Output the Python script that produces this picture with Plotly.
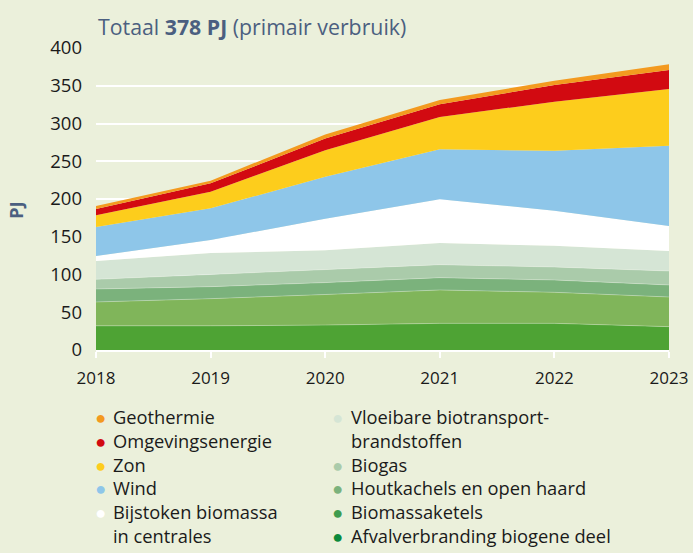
import plotly.graph_objects as go

years = [2018, 2019, 2020, 2021, 2022, 2023]

# lagen van onder naar boven (PJ)
afval = [32.0, 32.0, 33.0, 35.3, 35.3, 30.9]
biomassaketels = [31.6, 36.0, 40.5, 44.2, 41.1, 39.3]
houtkachels = [17.2, 15.9, 15.8, 16.3, 16.3, 15.9]
biogas = [12.8, 16.3, 16.9, 17.2, 17.2, 18.5]
vloeibaar = [24.3, 28.3, 25.8, 28.7, 28.2, 26.5]
bijstoken = [6.6, 17.2, 42.0, 57.9, 46.4, 33.1]
wind = [38.4, 41.9, 55.5, 66.2, 79.5, 106.4]
zon = [15.5, 22.1, 35.0, 42.8, 64.9, 75.1]
omgeving = [8.4, 11.0, 15.5, 16.8, 22.1, 25.2]
geothermie = [3.9, 3.6, 5.5, 5.6, 5.7, 7.5]

y_ticks = [0, 50, 100, 150, 200, 250, 300, 350, 400]

BG = "#ebf0db"
TITLE = "#4b5f80"
FONT = "Open Sans"
LEG_SIZE = 18.3

# (naam, waarden, kleur vlak, kleur bolletje, kolom)
series = [
    ("Afvalverbranding biogene deel", afval, "#4ea334", "#0b8a3c", 2),
    ("Biomassaketels", biomassaketels, "#80b55a", "#3f9c4f", 2),
    ("Houtkachels en open haard", houtkachels, "#7bb27c", "#7bb27c", 2),
    ("Biogas", biogas, "#aacbaa", "#aacbaa", 2),
    ("Vloeibare biotransport-<br>brandstoffen", vloeibaar, "#d5e5d5", "#d5e5d5", 2),
    ("Bijstoken biomassa<br>in centrales", bijstoken, "#ffffff", "#ffffff", 1),
    ("Wind", wind, "#8ec6e9", "#8ec6e9", 1),
    ("Zon", zon, "#fdcd1c", "#fdcd1c", 1),
    ("Omgevingsenergie", omgeving, "#d20a11", "#d20a11", 1),
    ("Geothermie", geothermie, "#f39a1f", "#f39a1f", 1),
]

fig = go.Figure()

for i, (name, vals, fill, _, _) in enumerate(series):
    # dunne lichte scheidingslijn tussen de groene lagen
    edge = dict(width=0.8, color="rgba(255,255,255,0.35)") if i < 4 else dict(width=0, color=fill)
    fig.add_trace(go.Scatter(
        x=years, y=vals, mode="lines", stackgroup="one",
        line=edge, fillcolor=fill,
        showlegend=False, name=name.replace("<br>", " "),
    ))


def legend_column(col):
    dots, texts = [], []
    for name, _, _, dot, c in reversed(series):
        if c != col:
            continue
        lines = name.split("<br>")
        dots.append(f'<span style="color:{dot}">●</span>')
        dots += ['<span style="color:rgba(0,0,0,0)">●</span>'] * (len(lines) - 1)
        texts += lines
    return "<br>".join(dots), "<br>".join(texts)


annotations = [
    dict(text="Totaal <b>378 PJ</b> (primair verbruik)", xref="paper", yref="paper",
         x=0.0, y=1.07, xanchor="left", yanchor="middle", showarrow=False,
         font=dict(family=FONT, size=21.3, color=TITLE)),
    dict(text="<b>PJ</b>", xref="paper", yref="paper", x=-0.14, y=0.464,
         textangle=-90, showarrow=False, xanchor="center", yanchor="middle",
         font=dict(family=FONT, size=18, color=TITLE)),
]

for col, x_dot, x_txt in [(1, 0.007, 0.026), (2, 0.4223, 0.441)]:
    dots, texts = legend_column(col)
    annotations.append(dict(
        text=dots, xref="paper", yref="paper", x=x_dot, y=-0.172,
        xanchor="center", yanchor="top", align="center", showarrow=False,
        font=dict(family=FONT, size=LEG_SIZE),
    ))
    annotations.append(dict(
        text=texts, xref="paper", yref="paper", x=x_txt, y=-0.172,
        xanchor="left", yanchor="top", align="left", showarrow=False,
        font=dict(family=FONT, size=LEG_SIZE, color="#1a1a1a"),
    ))

fig.update_layout(
    width=693, height=553,
    margin=dict(l=96, r=24, t=48, b=203),
    paper_bgcolor=BG, plot_bgcolor=BG,
    font=dict(family=FONT, color="#1a1a1a"),
    showlegend=False,
    xaxis=dict(
        range=[2018, 2023], tickvals=years, showgrid=False,
        showline=True, linecolor="white", linewidth=1.5,
        ticks="outside", tickcolor="white", ticklen=6, tickwidth=1.5,
        tickfont=dict(family=FONT, size=17, color="#1a1a1a"),
        ticklabelstandoff=6, zeroline=False, automargin=False,
    ),
    yaxis=dict(
        range=[0, 400], tickvals=y_ticks, showgrid=True,
        gridcolor="white", gridwidth=1.5, zeroline=False,
        tickfont=dict(family=FONT, size=18.5, color="#1a1a1a"),
        ticklabelstandoff=13, automargin=False,
    ),
    annotations=annotations,
)

fig.write_html(
    "out.html",
    config={"displayModeBar": False},
    post_script=f"document.body.style.margin='0';document.body.style.background='{BG}';",
)
